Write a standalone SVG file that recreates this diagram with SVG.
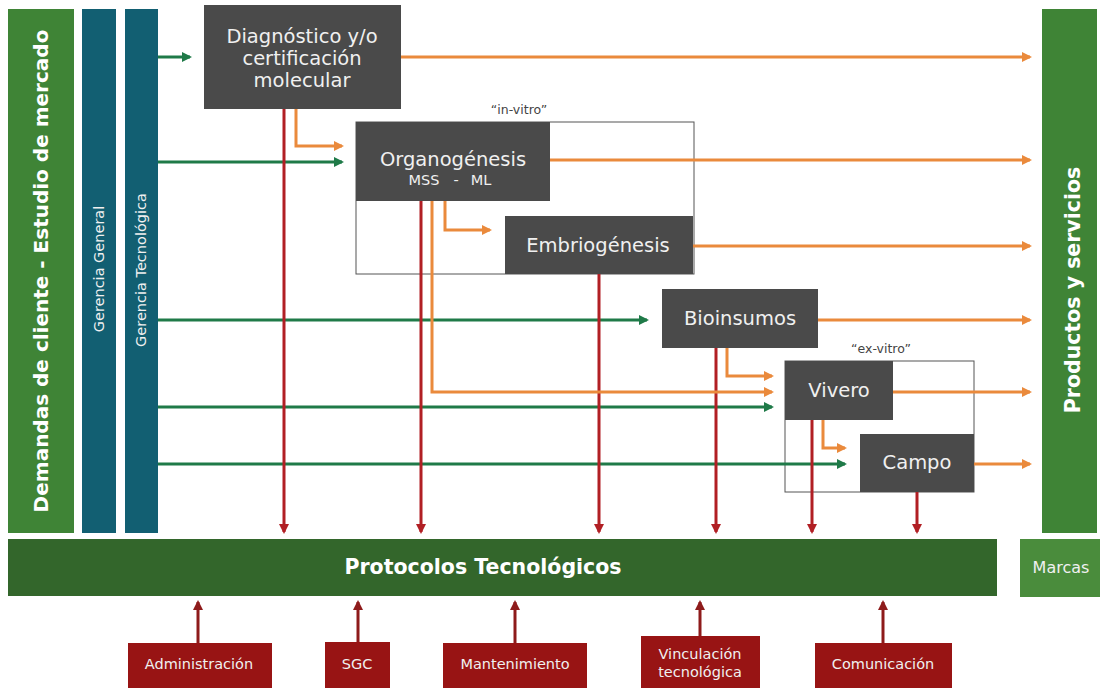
<svg xmlns="http://www.w3.org/2000/svg" width="1105" height="688" viewBox="0 0 1105 688">
<style>
.box{fill:#4a4a4a}
.t{font-family:"DejaVu Sans","Open Sans",sans-serif;fill:#f0f0f0;text-anchor:middle}
.tb{font-family:"DejaVu Sans","Open Sans",sans-serif;fill:#ffffff;text-anchor:middle;font-weight:bold}
.q{font-family:"DejaVu Sans","Open Sans",sans-serif;fill:#444;text-anchor:middle;font-size:12.5px}
.red{fill:#981414}
.og{stroke:#ea8a3c;stroke-width:3;fill:none}
.gr{stroke:#1f7a48;stroke-width:3;fill:none}
.rd{stroke:#b11f24;stroke-width:3;fill:none}
.dr{stroke:#8e1b1b;stroke-width:3;fill:none}
.frame{fill:none;stroke:#555;stroke-width:1}
</style>
<defs>
<marker id="ao" markerWidth="10" markerHeight="10" refX="8" refY="5" orient="auto" markerUnits="userSpaceOnUse"><path d="M0,0 L10,5 L0,10 z" fill="#ea8a3c"/></marker>
<marker id="ag" markerWidth="10" markerHeight="10" refX="8" refY="5" orient="auto" markerUnits="userSpaceOnUse"><path d="M0,0 L10,5 L0,10 z" fill="#1f7a48"/></marker>
<marker id="ar" markerWidth="10" markerHeight="10" refX="8" refY="5" orient="auto" markerUnits="userSpaceOnUse"><path d="M0,0 L10,5 L0,10 z" fill="#b11f24"/></marker>
<marker id="ad" markerWidth="10" markerHeight="10" refX="8" refY="5" orient="auto" markerUnits="userSpaceOnUse"><path d="M0,0 L10,5 L0,10 z" fill="#8e1b1b"/></marker>
</defs>
<rect width="1105" height="688" fill="#ffffff"/>

<g id="demandas">
<rect x="8" y="9" width="66" height="524" fill="#3f8436"/>
<text class="tb" font-size="20" transform="translate(48,271) rotate(-90)">Demandas de cliente - Estudio de mercado</text>
</g>
<g id="gerencia-general">
<rect x="82" y="9" width="34" height="524" fill="#125f72"/>
<text class="t" font-size="14.5" transform="translate(104,269) rotate(-90)">Gerencia General</text>
</g>
<g id="gerencia-tecnologica">
<rect x="125" y="9" width="33" height="524" fill="#125f72"/>
<text class="t" font-size="14.5" transform="translate(146,270) rotate(-90)">Gerencia Tecnológica</text>
</g>
<g id="productos">
<rect x="1042" y="9" width="55" height="524" fill="#3f8436"/>
<text class="tb" font-size="20.5" transform="translate(1080,290) rotate(-90)">Productos y servicios</text>
</g>

<g id="invitro-frame">
<rect class="frame" x="356" y="122" width="338" height="152"/>
<text class="q" x="519" y="114">“in-vitro”</text>
</g>
<g id="exvitro-frame">
<rect class="frame" x="785" y="361" width="189" height="131"/>
<text class="q" x="881" y="353">“ex-vitro”</text>
</g>

<g id="connectors">
<path class="gr" d="M158,57 H190" marker-end="url(#ag)"/>
<path class="gr" d="M158,162 H342" marker-end="url(#ag)"/>
<path class="gr" d="M158,320 H647" marker-end="url(#ag)"/>
<path class="gr" d="M158,407 H772" marker-end="url(#ag)"/>
<path class="gr" d="M158,464 H845" marker-end="url(#ag)"/>
<path class="rd" d="M284,109 V532" marker-end="url(#ar)"/>
<path class="rd" d="M421,201 V532" marker-end="url(#ar)"/>
<path class="rd" d="M599,274 V532" marker-end="url(#ar)"/>
<path class="rd" d="M716,348 V532" marker-end="url(#ar)"/>
<path class="rd" d="M812,420 V532" marker-end="url(#ar)"/>
<path class="rd" d="M917,492 V532" marker-end="url(#ar)"/>
<path class="og" d="M296,109 V146 H342" marker-end="url(#ao)"/>
<path class="og" d="M445,201 V230 H490" marker-end="url(#ao)"/>
<path class="og" d="M432,201 V392 H772" marker-end="url(#ao)"/>
<path class="og" d="M727,348 V376 H772" marker-end="url(#ao)"/>
<path class="og" d="M823,420 V448 H845" marker-end="url(#ao)"/>
<path class="og" d="M401,57 H1030" marker-end="url(#ao)"/>
<path class="og" d="M550,160 H1030" marker-end="url(#ao)"/>
<path class="og" d="M693,246 H1030" marker-end="url(#ao)"/>
<path class="og" d="M818,320 H1030" marker-end="url(#ao)"/>
<path class="og" d="M893,392 H1030" marker-end="url(#ao)"/>
<path class="og" d="M974,464 H1030" marker-end="url(#ao)"/>
<path class="dr" d="M198,643 V602" marker-end="url(#ad)"/>
<path class="dr" d="M358,642 V602" marker-end="url(#ad)"/>
<path class="dr" d="M515,643 V602" marker-end="url(#ad)"/>
<path class="dr" d="M700,636 V602" marker-end="url(#ad)"/>
<path class="dr" d="M883,643 V602" marker-end="url(#ad)"/>
</g>

<g id="diagnostico">
<rect class="box" x="204" y="5" width="197" height="104"/>
<text class="t" font-size="19.5" x="302" y="43">Diagnóstico y/o</text>
<text class="t" font-size="19.5" x="302" y="65">certificación</text>
<text class="t" font-size="19.5" x="302" y="87">molecular</text>
</g>
<g id="organogenesis">
<rect class="box" x="356" y="122" width="194" height="79"/>
<text class="t" font-size="19.5" x="453" y="166">Organogénesis</text>
<text class="t" font-size="14.5" x="424" y="185">MSS</text>
<text class="t" font-size="14.5" x="456" y="185">-</text>
<text class="t" font-size="14.5" x="481" y="185">ML</text>
</g>
<g id="embriogenesis">
<rect class="box" x="505" y="216" width="188" height="58"/>
<text class="t" font-size="19.5" x="598" y="252">Embriogénesis</text>
</g>
<g id="bioinsumos">
<rect class="box" x="662" y="289" width="156" height="59"/>
<text class="t" font-size="19.5" x="740" y="325">Bioinsumos</text>
</g>
<g id="vivero">
<rect class="box" x="785" y="361" width="108" height="59"/>
<text class="t" font-size="19.5" x="839" y="397">Vivero</text>
</g>
<g id="campo">
<rect class="box" x="860" y="434" width="114" height="58"/>
<text class="t" font-size="19.5" x="917" y="469">Campo</text>
</g>

<g id="protocolos">
<rect x="8" y="539" width="989" height="57" fill="#33662b"/>
<text class="tb" font-size="20.5" x="483" y="574">Protocolos Tecnológicos</text>
</g>
<g id="marcas">
<rect x="1020" y="539" width="80" height="58" fill="#4a8c3c"/>
<text class="t" font-size="16" x="1061" y="573">Marcas</text>
</g>

<g id="administracion">
<rect class="red" x="128" y="643" width="144" height="45"/>
<text class="t" font-size="14.5" x="199" y="669">Administración</text>
</g>
<g id="sgc">
<rect class="red" x="325" y="642" width="65" height="46"/>
<text class="t" font-size="14.5" x="357" y="669">SGC</text>
</g>
<g id="mantenimiento">
<rect class="red" x="443" y="643" width="144" height="45"/>
<text class="t" font-size="14.5" x="515" y="669">Mantenimiento</text>
</g>
<g id="vinculacion">
<rect class="red" x="641" y="636" width="119" height="52"/>
<text class="t" font-size="14.5" x="700" y="659">Vinculación</text>
<text class="t" font-size="14.5" x="700" y="677">tecnológica</text>
</g>
<g id="comunicacion">
<rect class="red" x="815" y="643" width="137" height="45"/>
<text class="t" font-size="14.5" x="883" y="669">Comunicación</text>
</g>
</svg>
